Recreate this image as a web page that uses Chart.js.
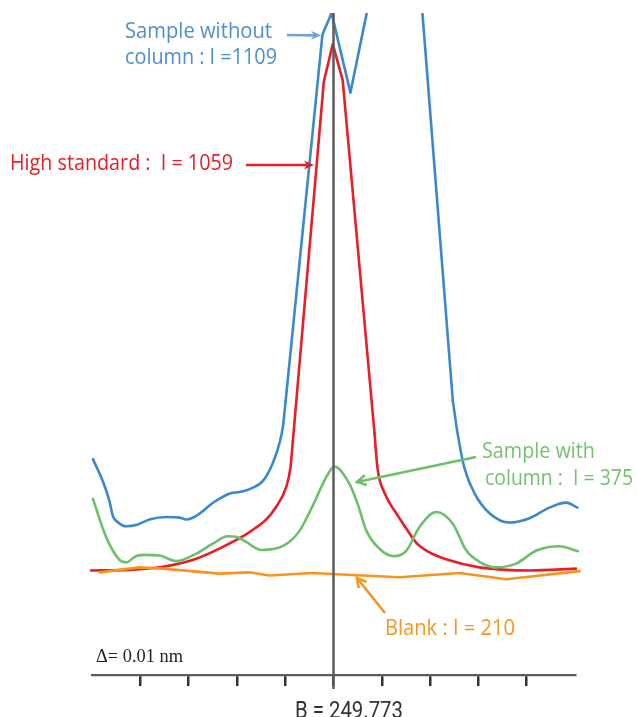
<!DOCTYPE html>
<html><head><meta charset="utf-8">
<script src="https://cdn.jsdelivr.net/npm/chart.js@4.4.0/dist/chart.umd.min.js"></script>
<style>html,body{margin:0;padding:0;background:#fff;}#wrap{width:637px;height:717px;}</style>
</head><body>
<div id="wrap"><canvas id="c" width="637" height="717"></canvas></div>
<script>
// x = offset from B (pm, one tick = 0.01 nm), y = intensity
const xMin = -50, xMax = 50, xStep = 10;
const yMin = 45, yMax = 1109;

const blankLine = [[-48.4,210],[-40.2,218],[-35.3,216],[-23.6,208],[-17.4,210],[-13.3,205],[-4.3,209],[0.6,207],[13.7,202],[26.1,209],[35.8,199],[50.9,212]];

const withColumn = [[-49.8,328],[-47.1,267],[-44.3,230],[-42.9,226],[-40.9,236],[-38.8,238],[-36.0,237],[-32.6,228],[-28.4,240],[-25.0,256],[-21.9,268],[-20.1,267],[-18.1,259],[-15.0,246],[-11.2,250],[-9.1,259],[-7.0,277],[-4.3,317],[-1.5,363],[0.2,380],[3.3,352],[5.0,320],[6.8,277],[9.5,248],[12.6,236],[15.1,245],[17.8,283],[21.3,307],[24.7,288],[27.5,245],[30.2,227],[33.7,218],[37.8,224],[42.0,245],[46.8,252],[50.6,244]];

const withoutLeft = [[-49.8,392],[-47.8,357],[-46.4,325],[-45.7,301],[-44.7,291],[-42.9,284],[-40.5,287],[-38.1,295],[-34.6,299],[-31.9,298],[-30.4,295],[-28.4,301],[-24.7,323],[-21.3,337],[-19.5,339],[-17.0,345],[-14.6,357],[-12.6,385],[-11.2,417],[-10.5,443],[-9.9,486]];
const withoutPeak = [[-9.9,486],[-2.3,1074],[-0.4,1109],[3.5,981],[6.8,1106],[9.5,1207],[17.4,1209],[24.7,486]];
const withoutRight = [[24.7,486],[25.7,433],[27.1,378],[29.2,337],[32.3,305],[36.4,290],[40.6,297],[44.7,314],[48.2,322],[50.5,314]];

const highLeft = [[-50.2,213],[-42.2,214],[-35.3,219],[-28.4,232],[-22.9,251],[-18.1,271],[-16.4,280],[-13.9,295],[-11.9,315],[-9.8,347],[-8.9,379],[-8.4,422]];
const highPeak = [[-8.4,422],[-2.0,999],[-0.15,1059],[1.9,1001],[8.5,433]];
const highRight = [[8.5,433],[9.1,378],[10.6,337],[13.0,305],[15.1,280],[17.2,257],[19.9,242],[23.3,231],[30.2,218],[40.6,213],[50.2,216]];

const labelBlue = ['Sample without', 'column : I =1109'];
const labelRed = 'High standard :  I = 1059';
const labelGreen = ['Sample with', 'column :  I = 375'];
const labelOrange = 'Blank : I = 210';
const centerLabel = 'B = 249.773';
const stepLabel = '\u0394= 0.01 nm';

const C_BLUE = '#3a89cf', C_RED = '#ea1c24', C_GREEN = '#6cc06a', C_ORANGE = '#f7941e';

const pts = a => a.map(p => ({x: p[0], y: p[1]}));
const clipAll = {left: 10, right: 10, top: 0, bottom: 10};
function ds(arr, color, smooth) {
  return {data: pts(arr), borderColor: color, borderWidth: 2.6, pointRadius: 0, fill: false,
    tension: smooth ? 0.4 : 0, cubicInterpolationMode: smooth ? 'monotone' : 'default',
    clip: clipAll, borderCapStyle: 'round', borderJoinStyle: 'round'};
}

function fitText(ctx, text, x, y, w, font, color) {
  ctx.save();
  ctx.font = font; ctx.fillStyle = color; ctx.textBaseline = 'alphabetic'; ctx.textAlign = 'left';
  const nat = ctx.measureText(text).width;
  ctx.translate(x, y); ctx.scale(w / nat, 1);
  ctx.fillText(text, 0, 0);
  ctx.restore();
}
function filledArrow(ctx, x1, y1, x2, y2, color, lw, hl, hw) {
  const a = Math.atan2(y2 - y1, x2 - x1);
  ctx.save();
  ctx.strokeStyle = color; ctx.fillStyle = color; ctx.lineWidth = lw;
  ctx.beginPath(); ctx.moveTo(x1, y1);
  ctx.lineTo(x2 - Math.cos(a) * hl * 0.7, y2 - Math.sin(a) * hl * 0.7); ctx.stroke();
  ctx.translate(x2, y2); ctx.rotate(a);
  ctx.beginPath(); ctx.moveTo(0, 0); ctx.lineTo(-hl, -hw); ctx.lineTo(-hl * 0.7, 0); ctx.lineTo(-hl, hw); ctx.closePath(); ctx.fill();
  ctx.restore();
}
function openArrow(ctx, x1, y1, x2, y2, color, lw, hl, hw) {
  const a = Math.atan2(y2 - y1, x2 - x1);
  ctx.save();
  ctx.strokeStyle = color; ctx.lineWidth = lw; ctx.lineCap = 'butt';
  ctx.beginPath(); ctx.moveTo(x1, y1); ctx.lineTo(x2, y2); ctx.stroke();
  ctx.translate(x2, y2); ctx.rotate(a);
  ctx.beginPath(); ctx.moveTo(-hl, -hw); ctx.lineTo(0, 0); ctx.lineTo(-hl, hw); ctx.stroke();
  ctx.restore();
}

const annot = {
  id: 'annot',
  afterDatasetsDraw(chart) {
    const {ctx, chartArea, scales: {x}} = chart;
    const cx = x.getPixelForValue(0);
    ctx.save();
    ctx.strokeStyle = '#5b5b5b'; ctx.lineWidth = 2.5;
    ctx.beginPath(); ctx.moveTo(cx, chartArea.top); ctx.lineTo(cx, chartArea.bottom + 14); ctx.stroke();
    ctx.restore();

    const f = '21px "Open Sans"';
    fitText(ctx, labelBlue[0], 125, 38, 147, f, '#4a8fd2');
    fitText(ctx, labelBlue[1], 125, 64, 152, f, '#4a8fd2');
    filledArrow(ctx, 287, 35, 321, 35.5, '#6ea3da', 2.6, 10, 4.5);

    fitText(ctx, labelRed, 10, 170, 223, f, C_RED);
    filledArrow(ctx, 246, 165, 314, 165, C_RED, 2.6, 10, 4.5);

    fitText(ctx, labelGreen[0], 482, 458, 113, f, '#72c272');
    fitText(ctx, labelGreen[1], 485, 485, 148, f, '#72c272');
    openArrow(ctx, 476, 457, 357, 482, '#6cc06a', 2.6, 9, 5);

    fitText(ctx, labelOrange, 385, 635, 130, f, C_ORANGE);
    openArrow(ctx, 385, 613, 357, 578, C_ORANGE, 2.6, 9, 5);

    fitText(ctx, stepLabel, 96, 662, 87, '18px "Liberation Serif"', '#222');
    fitText(ctx, centerLabel, 295, 718, 108, '24px Roboto', '#333');
  }
};

new Chart(document.getElementById('c'), {
  type: 'line',
  data: {
    datasets: [
      ds(blankLine, C_ORANGE, false),
      ds(withColumn, C_GREEN, true),
      ds(withoutLeft, C_BLUE, true),
      ds(withoutPeak, C_BLUE, false),
      ds(withoutRight, C_BLUE, true),
      ds(highLeft, C_RED, true),
      ds(highPeak, C_RED, false),
      ds(highRight, C_RED, true)
    ]
  },
  options: {
    responsive: false, animation: false, devicePixelRatio: 1,
    layout: {padding: {left: 92, right: 62, top: 13, bottom: 31}},
    plugins: {legend: {display: false}, tooltip: {enabled: false}},
    scales: {
      x: {type: 'linear', min: xMin, max: xMax,
        ticks: {display: false, stepSize: xStep},
        grid: {drawOnChartArea: false, drawTicks: true, tickLength: 11, lineWidth: 2.5,
          color: c => (c.tick && Math.abs(c.tick.value) === 50) ? 'rgba(0,0,0,0)' : '#333'},
        border: {display: true, color: '#5b5b5b', width: 2.2}},
      y: {type: 'linear', min: yMin, max: yMax, display: false}
    }
  },
  plugins: [annot]
});
</script>
</body></html>
